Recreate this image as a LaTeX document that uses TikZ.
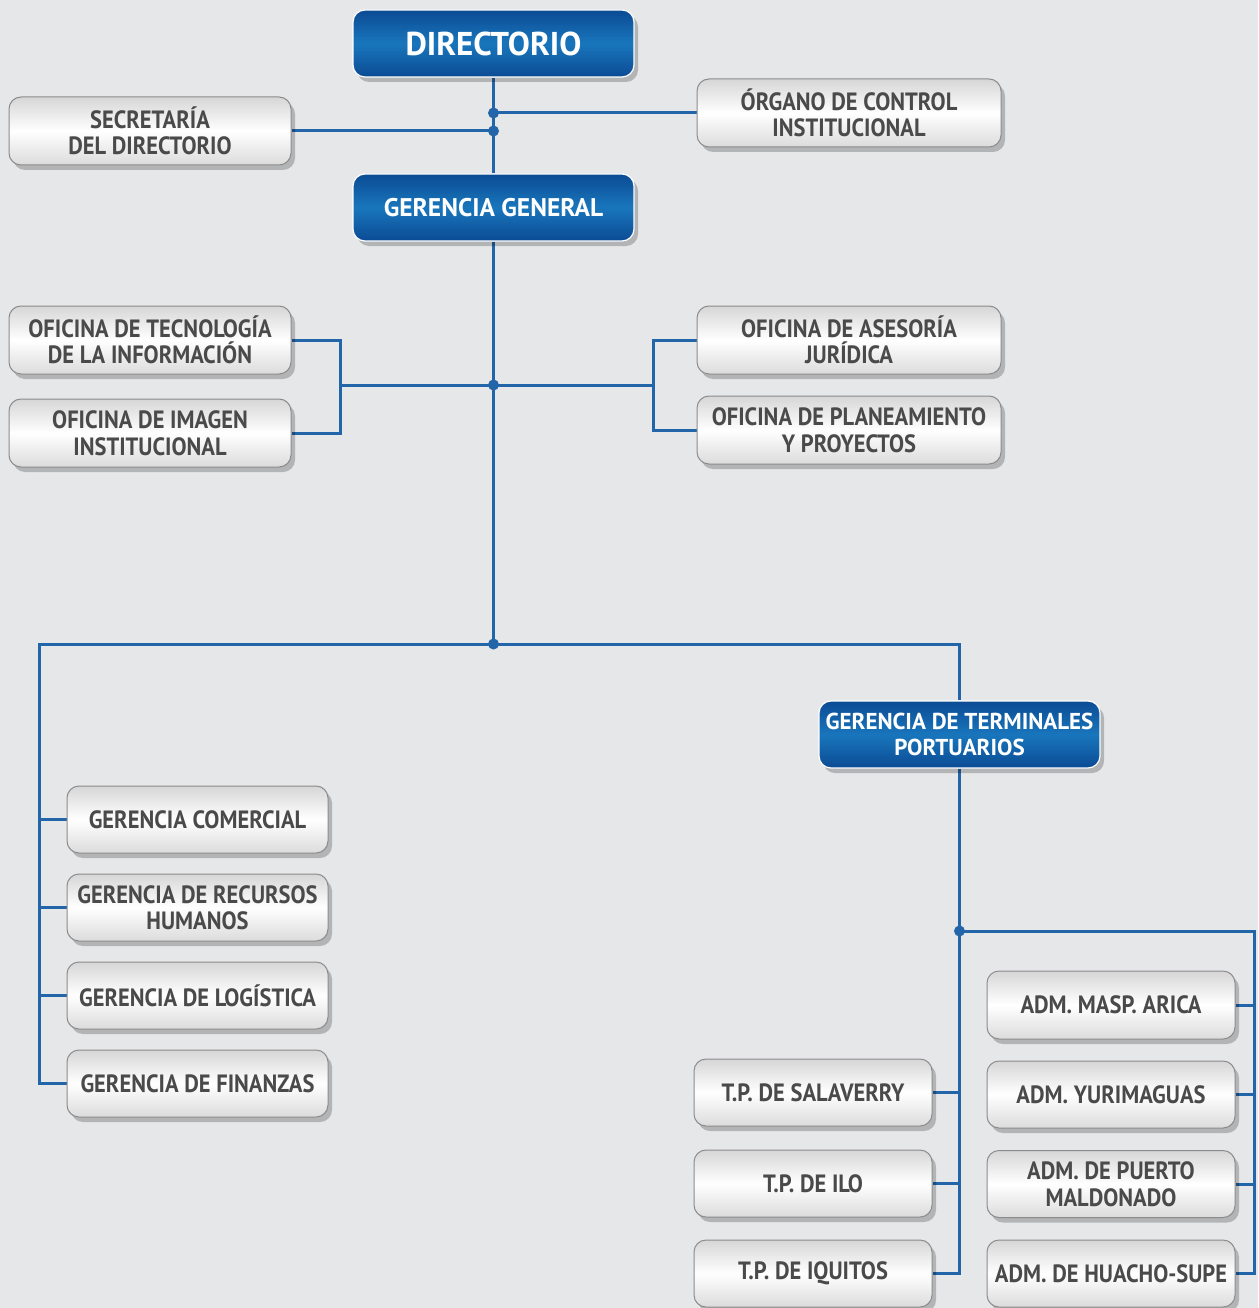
\documentclass[tikz,border=0pt]{standalone}
\usepackage{fontspec}
\setmainfont{PT Sans}[FakeStretch=0.9]
\newfontfamily\widefont{PT Sans}[FakeStretch=1.0]
\usetikzlibrary{shadows,backgrounds}
\definecolor{bg}{HTML}{E6E7E9}
\definecolor{lnblue}{HTML}{2265A8}
\definecolor{bdark}{HTML}{0B4B94}
\definecolor{blight}{HTML}{1976BC}
\definecolor{txtgray}{HTML}{4A4A4A}
\definecolor{boxedge}{HTML}{8C8C8C}
\tikzset{
  shad/.style={drop shadow={shadow xshift=4pt, shadow yshift=-5pt, opacity=0.22, fill=black}},
  graybox/.style={shad, draw=boxedge, line width=1pt, rounded corners=12pt,
    top color=gray!32, bottom color=gray!28, middle color=white,
    inner sep=0pt, align=center, text=txtgray,
    font=\bfseries\fontsize{25}{26.5}\selectfont},
  bluebox/.style={shad, draw=white, line width=1.2pt, rounded corners=12pt,
    top color=bdark, bottom color=bdark, middle color=blight,
    inner sep=0pt, align=center, text=white,
    font=\widefont\bfseries\fontsize{25.5}{26}\selectfont},
  conn/.style={lnblue, line width=3pt},
  jdot/.style={circle, fill=lnblue, inner sep=0pt, minimum size=11pt}
}
\begin{document}
\begin{tikzpicture}[x=1pt,y=-1pt]
\useasboundingbox (0,0) rectangle (1258,1308);

% boxes
\node[bluebox, minimum width=281pt, minimum height=67pt, font=\widefont\bfseries\fontsize{33}{36}\selectfont] (dir) at (493.5,43.5) {DIRECTORIO};
\node[bluebox, minimum width=281pt, minimum height=67pt] (gg) at (493.5,207.5) {GERENCIA GENERAL};
\node[graybox, minimum width=282pt, minimum height=68pt] (sec) at (150,131) {SECRETARÍA\\DEL DIRECTORIO};
\node[graybox, minimum width=304pt, minimum height=68pt] (oci) at (849,113) {ÓRGANO DE CONTROL\\INSTITUCIONAL};
\node[graybox, minimum width=282pt, minimum height=68pt] (otec) at (150,340) {OFICINA DE TECNOLOGÍA\\DE LA INFORMACIÓN};
\node[graybox, minimum width=282pt, minimum height=68pt] (oimg) at (150,433) {OFICINA DE IMAGEN\\INSTITUCIONAL};
\node[graybox, minimum width=304pt, minimum height=68pt] (oase) at (849,340) {OFICINA DE ASESORÍA\\JURÍDICA};
\node[graybox, minimum width=304pt, minimum height=68pt] (opla) at (849,430) {OFICINA DE PLANEAMIENTO\\Y PROYECTOS};
\node[graybox, minimum width=261pt, minimum height=67pt] (gcom) at (197.5,819.5) {GERENCIA COMERCIAL};
\node[graybox, minimum width=261pt, minimum height=67pt] (grh) at (197.5,907.5) {GERENCIA DE RECURSOS\\HUMANOS};
\node[graybox, minimum width=261pt, minimum height=67pt] (glog) at (197.5,995.5) {GERENCIA DE LOGÍSTICA};
\node[graybox, minimum width=261pt, minimum height=67pt] (gfin) at (197.5,1083.5) {GERENCIA DE FINANZAS};
\node[bluebox, minimum width=281pt, minimum height=67pt, font=\widefont\bfseries\fontsize{23}{26}\selectfont] (gtp) at (959.5,734.5) {GERENCIA DE TERMINALES\\PORTUARIOS};
\node[graybox, minimum width=238pt, minimum height=67pt] (tps) at (813,1092.5) {T.P. DE SALAVERRY};
\node[graybox, minimum width=238pt, minimum height=67pt] (tpi) at (813,1183.5) {T.P. DE ILO};
\node[graybox, minimum width=238pt, minimum height=67pt] (tpq) at (813,1273.5) {T.P. DE IQUITOS};
\node[graybox, minimum width=248pt, minimum height=68pt] (aar) at (1111,1005) {ADM. MASP. ARICA};
\node[graybox, minimum width=248pt, minimum height=67pt] (ayu) at (1111,1094.5) {ADM. YURIMAGUAS};
\node[graybox, minimum width=248pt, minimum height=67pt] (apu) at (1111,1184) {ADM. DE PUERTO\\MALDONADO};
\node[graybox, minimum width=248pt, minimum height=67pt] (ahu) at (1111,1273.5) {ADM. DE HUACHO-SUPE};

% junction coordinates
\coordinate (j1) at (493.5,113);
\coordinate (j2) at (493.5,131);
\coordinate (j3) at (493.5,385);
\coordinate (j4) at (493.5,644);
\coordinate (bl) at (340,385);
\coordinate (br) at (653,385);
\coordinate (lc) at (39,644);
\coordinate (j5) at (959.5,931);
\coordinate (tb) at (959.5,1273.5);
\coordinate (rc) at (1254,931);

\begin{scope}[on background layer]
\fill[bg] (0,0) rectangle (1258,1308);
\draw[conn] (dir.south) -- (gg.north);
\draw[conn] (j1) -- (oci.west);
\draw[conn] (sec.east) -- (j2);
\draw[conn] (gg.south) -- (j4);
\draw[conn] (otec.east) -| (bl) |- (oimg.east);
\draw[conn] (bl) -- (br);
\draw[conn] (oase.west) -| (br) |- (opla.west);
\draw[conn] (j4) -- (lc) |- (gfin.west);
\draw[conn] (j4) -| (gtp.north);
\draw[conn] (gtp.south) -- (tb) -- (tpq.east);
\draw[conn] (j5) -- (rc) |- (ahu.east);
\draw[conn] (gcom.west) -- (gcom.west -| lc);
\draw[conn] (grh.west) -- (grh.west -| lc);
\draw[conn] (glog.west) -- (glog.west -| lc);
\draw[conn] (tps.east) -- (tps.east -| j5);
\draw[conn] (tpi.east) -- (tpi.east -| j5);
\draw[conn] (aar.east) -- (aar.east -| rc);
\draw[conn] (ayu.east) -- (ayu.east -| rc);
\draw[conn] (apu.east) -- (apu.east -| rc);
\end{scope}

% dots
\node[jdot] (d1) at (j1) {};
\node[jdot] (d2) at (j2) {};
\node[jdot] (d3) at (j3) {};
\node[jdot] (d4) at (j4) {};
\node[jdot] (d5) at (j5) {};
\end{tikzpicture}
\end{document}
